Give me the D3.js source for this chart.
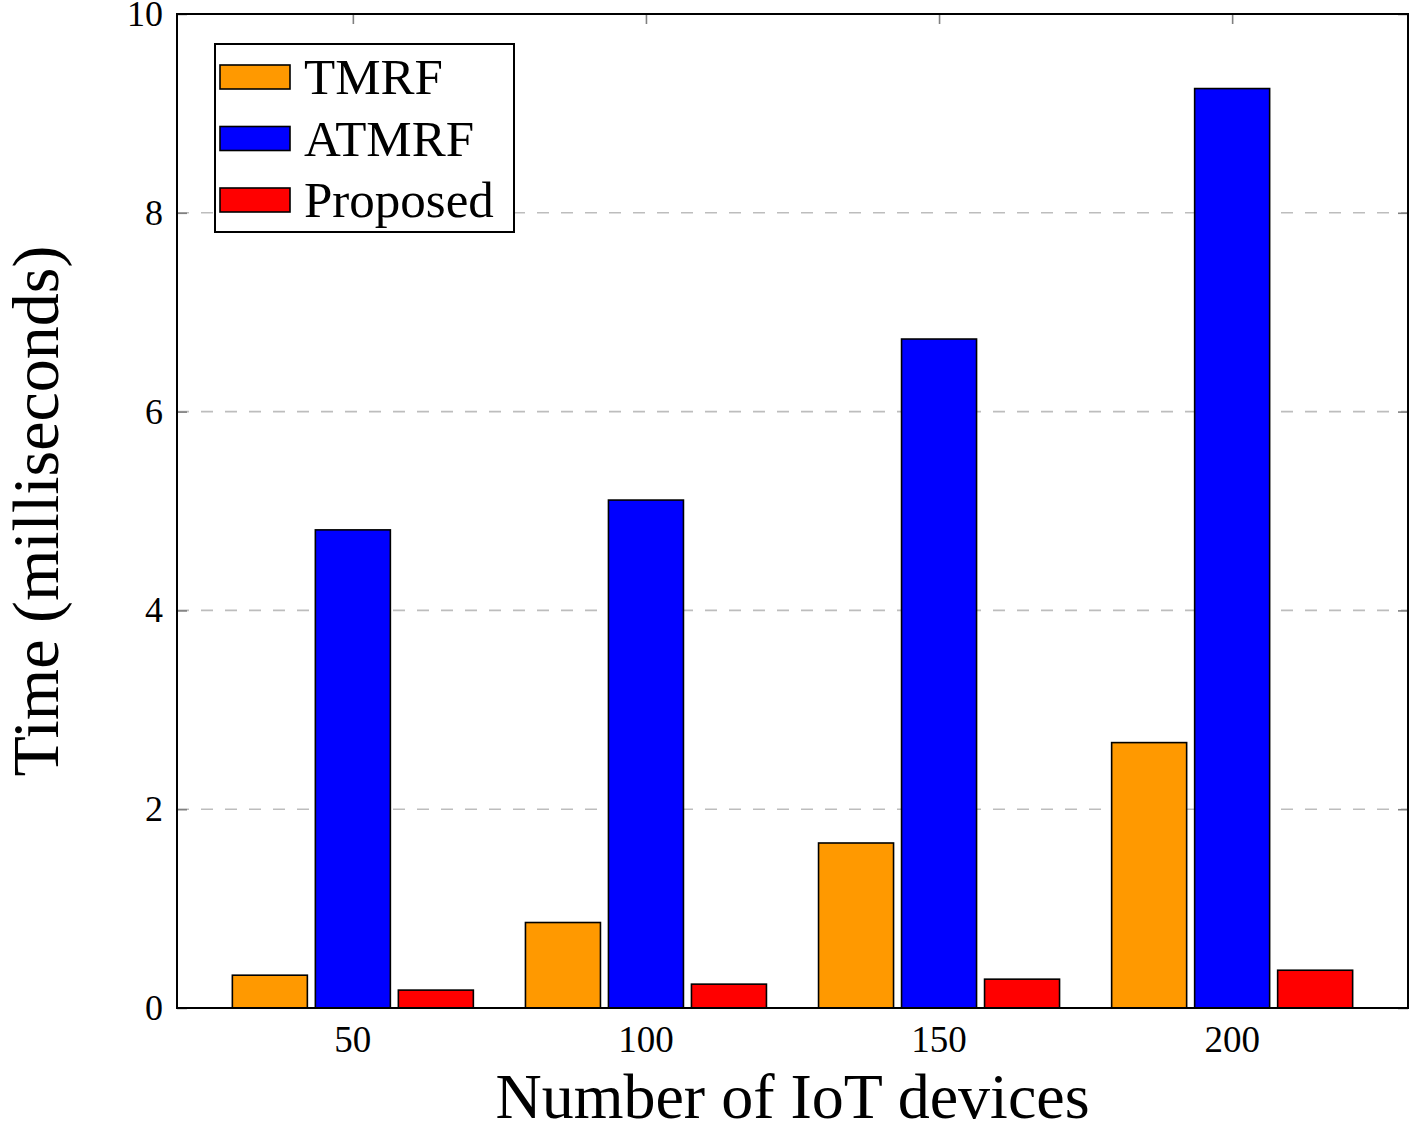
<!DOCTYPE html>
<html>
<head>
<meta charset="utf-8">
<script src="https://cdn.jsdelivr.net/npm/d3@7"></script>
<style>
  body { margin: 0; background: #fff; }
  text { font-family: "Liberation Serif", "DejaVu Serif", serif; fill: #000; }
</style>
</head>
<body>
<script>
// data
var devices = [50, 100, 150, 200];
var seriesNames = ["TMRF", "ATMRF", "Proposed"];
var tmrf = [0.33, 0.86, 1.66, 2.67];
var atmrf = [4.81, 5.11, 6.73, 9.25];
var proposed = [0.18, 0.24, 0.29, 0.38];
var yTicks = [0, 2, 4, 6, 8, 10];
var colors = ["#ff9900", "#0000ff", "#ff0000"];

var series = [tmrf, atmrf, proposed];

var w = 1409, h = 1130;
var pLeft = 177, pRight = 1408, pTop = 14, pBottom = 1008;

var svg = d3.select("body").append("svg")
    .attr("width", w)
    .attr("height", h);

//scales
var x = d3.scaleLinear().domain([20, 230]).range([pLeft, pRight]);
var y = d3.scaleLinear().domain([0, 10]).range([pBottom, pTop]);

var barW = 75, barStep = 83;

//grid lines
svg.selectAll(".grid")
    .data(yTicks.filter(function(d){ return d > 0 && d < 10; }))
    .enter().append("line")
    .attr("x1", pLeft).attr("x2", pRight)
    .attr("y1", function(d){ return y(d); })
    .attr("y2", function(d){ return y(d); })
    .style("stroke", "#bdbdbd")
    .style("stroke-width", 1.6)
    .style("stroke-dasharray", "12,12");

//bars
series.forEach(function(vals, s){
    svg.selectAll(".bar" + s)
        .data(vals)
        .enter().append("rect")
        .attr("x", function(d, i){ return x(devices[i]) + (s - 1) * barStep - barW / 2; })
        .attr("y", function(d){ return y(d); })
        .attr("width", barW)
        .attr("height", function(d){ return y(0) - y(d); })
        .style("fill", colors[s])
        .style("stroke", "#000")
        .style("stroke-width", 1.6);
});

//axes with inner ticks
var yAxisL = svg.append("g").attr("transform", "translate(" + pLeft + ",0)")
    .call(d3.axisRight(y).tickValues(yTicks).tickSize(10).tickFormat(""));
var yAxisR = svg.append("g").attr("transform", "translate(" + pRight + ",0)")
    .call(d3.axisLeft(y).tickValues(yTicks).tickSize(10).tickFormat(""));
var xAxisT = svg.append("g").attr("transform", "translate(0," + pTop + ")")
    .call(d3.axisBottom(x).tickValues(devices).tickSize(10).tickFormat(""));
[yAxisL, yAxisR, xAxisT].forEach(function(a){
    a.select(".domain").remove();
    a.selectAll(".tick line").style("stroke", "#808080").style("stroke-width", 1.6);
});

//frame
svg.append("rect")
    .attr("x", pLeft).attr("y", pTop)
    .attr("width", pRight - pLeft).attr("height", pBottom - pTop)
    .style("fill", "none")
    .style("stroke", "#000")
    .style("stroke-width", 2);

//tick labels
svg.selectAll(".ylab")
    .data(yTicks)
    .enter().append("text")
    .attr("x", pLeft - 14)
    .attr("y", function(d){ return y(d) + 12; })
    .attr("text-anchor", "end")
    .style("font-size", "36px")
    .text(function(d){ return d; });

svg.selectAll(".xlab")
    .data(devices)
    .enter().append("text")
    .attr("x", function(d){ return x(d); })
    .attr("y", pBottom + 44)
    .attr("text-anchor", "middle")
    .style("font-size", "37px")
    .text(function(d){ return d; });

//axis titles
svg.append("text")
    .attr("x", x(125))
    .attr("y", 1118)
    .attr("text-anchor", "middle")
    .style("font-size", "64px")
    .text("Number of IoT devices");

svg.append("text")
    .attr("transform", "translate(58," + y(5) + ") rotate(-90)")
    .attr("text-anchor", "middle")
    .style("font-size", "66px")
    .text("Time (milliseconds)");

//legend
var legend = svg.append("g");
legend.append("rect")
    .attr("x", 215).attr("y", 44)
    .attr("width", 299).attr("height", 188)
    .style("fill", "#fff")
    .style("stroke", "#000")
    .style("stroke-width", 2);

seriesNames.forEach(function(name, i){
    var cy = 77 + i * 61.5;
    legend.append("rect")
        .attr("x", 220).attr("y", cy - 12)
        .attr("width", 70).attr("height", 24)
        .style("fill", colors[i])
        .style("stroke", "#000")
        .style("stroke-width", 1.6);
    legend.append("text")
        .attr("x", 304)
        .attr("y", cy + 17)
        .style("font-size", "51px")
        .text(name);
});
</script>
</body>
</html>
